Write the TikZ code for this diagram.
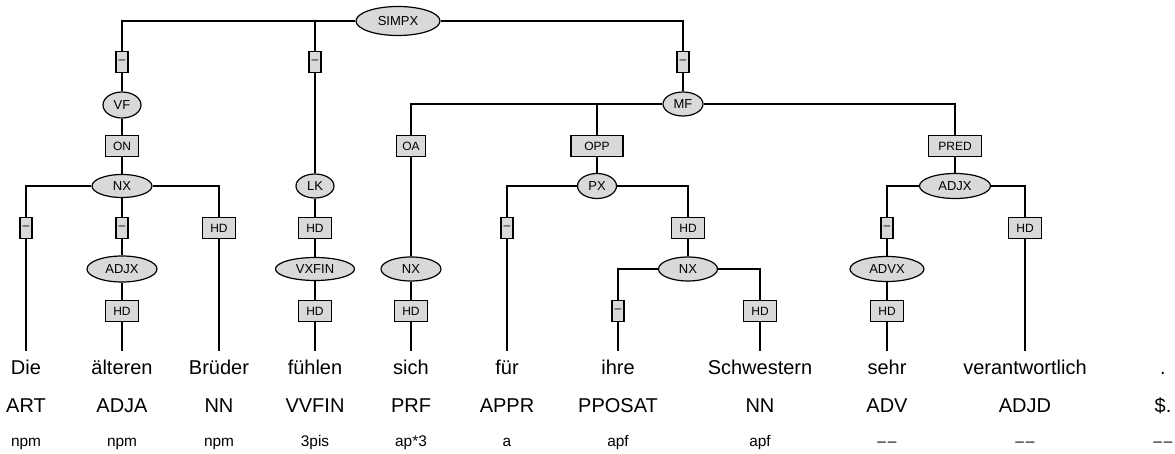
\documentclass[tikz,border=0pt]{standalone}
\usepackage{fontspec}
\setmainfont{Liberation Sans}
\usetikzlibrary{shapes.geometric}
\definecolor{node-gray}{HTML}{D9D9D9}
\newcommand{\nomorph}{\textendash\kern1pt\textendash}

\begin{document}
\begin{tikzpicture}[x=0.5pt, y=-0.5pt, line width=0.6pt,
      cat/.style={ellipse, draw, fill=node-gray, inner sep=0pt,
            minimum width=30pt, minimum height=12pt, font=\fontsize{6.5}{7}\selectfont},
      fn/.style={rectangle, draw, fill=node-gray, inner sep=0pt,
            minimum width=16.5pt, minimum height=10.5pt, font=\fontsize{6}{7}\selectfont},
      nofn/.style={fn, minimum width=6pt},
      word/.style={anchor=base, inner xsep=0pt, inner ysep=4.5pt, text height=7.3pt,
            font=\fontsize{10}{12}\selectfont},
      postag/.style={anchor=base, inner sep=0pt, font=\fontsize{10}{12}\selectfont},
      morph/.style={anchor=base, inner sep=0pt, font=\fontsize{7.7}{9}\selectfont}]
    \useasboundingbox (0,0) rectangle (1175,454);
    \foreach \x/\w/\t/\m [count=\i] in {26/Die/ART/npm, 122/älteren/ADJA/npm,
          219/Brüder/NN/npm, 315/fühlen/VVFIN/3pis, 411/sich/PRF/ap*3, 507/für/APPR/a,
          618/ihre/PPOSAT/apf, 760/Schwestern/NN/apf,
          887/sehr/ADV/\nomorph,
          1025/verantwortlich/ADJD/\nomorph,
          1163/./\$./\nomorph} {
      \node[word] (w\i) at (\x,375) {\w};
      \node[postag] (t\i) at (\x,413) {\t};
      \node[morph] (m\i) at (\x,447) {\m};
    }
    \node[cat, minimum width=42pt, minimum height=14.5pt] (simpx) at (398,21) {SIMPX};
    \node[nofn] (e-vf) at (122,62) {–};
    \node[nofn] (e-lk) at (315,62) {–};
    \node[nofn] (e-mf) at (683,62) {–};
    \node[cat, minimum width=19pt, minimum height=13pt] (vf) at (122,105) {VF};
    \node[cat, minimum width=19pt] (lk) at (315,186) {LK};
    \node[cat, minimum width=20pt] (mf) at (683,104) {MF};
    \node[fn] (e-on) at (122,146) {ON};
    \node[fn, minimum width=14.5pt] (e-oa) at (411,146) {OA};
    \node[fn, minimum width=26pt] (e-opp) at (597,146) {OPP};
    \node[fn, minimum width=26.5pt] (e-pred) at (955,146) {PRED};
    \node[cat, minimum height=11.5pt] (nx-on) at (122,186) {NX};
    \node[cat, minimum width=19.5pt, minimum height=12.5pt] (px) at (597,186) {PX};
    \node[cat, minimum width=35.5pt, minimum height=12.5pt] (adjx-pred) at (955,186) {ADJX};
    \node[nofn] (e-die) at (26,228) {–};
    \node[nofn] (e-aelt) at (122,228) {–};
    \node[fn] (e-brued) at (219,228) {HD};
    \node[fn] (e-lkhd) at (315,228) {HD};
    \node[nofn] (e-fuer) at (507,228) {–};
    \node[fn] (e-pxhd) at (688,228) {HD};
    \node[nofn] (e-advx) at (887,228) {–};
    \node[fn] (e-verant) at (1025,228) {HD};
    \node[cat, minimum width=35pt, minimum height=13pt] (adjx-aelt) at (122,269) {ADJX};
    \node[cat, minimum width=39.5pt, minimum height=11.5pt] (vxfin) at (315,269) {VXFIN};
    \node[cat] (nx-oa) at (411,269) {NX};
    \node[cat, minimum width=29.5pt] (nx-px) at (688,269) {NX};
    \node[cat, minimum width=37pt, minimum height=12.5pt] (advx) at (887,269) {ADVX};
    \node[fn] (e-aelthd) at (122,311) {HD};
    \node[fn] (e-vxhd) at (315,311) {HD};
    \node[fn] (e-sichhd) at (411,311) {HD};
    \node[nofn] (e-ihre) at (618,311) {–};
    \node[fn] (e-schw) at (760,311) {HD};
    \node[fn] (e-sehr) at (887,311) {HD};
    \draw (simpx.west) -| (e-vf.north);
    \draw (simpx.west) -| (e-lk.north);
    \draw (simpx.east) -| (e-mf.north);
    \draw (e-vf) -- (vf);
    \draw (vf) -- (e-on);
    \draw (e-on) -- (nx-on);
    \draw (nx-on.west) -| (e-die.north);
    \draw (nx-on) -- (e-aelt);
    \draw (nx-on.east) -| (e-brued.north);
    \draw (e-die) -- (w1);
    \draw (e-aelt) -- (adjx-aelt);
    \draw (adjx-aelt) -- (e-aelthd);
    \draw (e-aelthd) -- (w2);
    \draw (e-brued) -- (w3);
    \draw (e-lk) -- (lk);
    \draw (lk) -- (e-lkhd);
    \draw (e-lkhd) -- (vxfin);
    \draw (vxfin) -- (e-vxhd);
    \draw (e-vxhd) -- (w4);
    \draw (e-mf) -- (mf);
    \draw (mf.west) -| (e-oa.north);
    \draw (mf.west) -| (e-opp.north);
    \draw (mf.east) -| (e-pred.north);
    \draw (e-oa) -- (nx-oa);
    \draw (nx-oa) -- (e-sichhd);
    \draw (e-sichhd) -- (w5);
    \draw (e-opp) -- (px);
    \draw (px.west) -| (e-fuer.north);
    \draw (px.east) -| (e-pxhd.north);
    \draw (e-fuer) -- (w6);
    \draw (e-pxhd) -- (nx-px);
    \draw (nx-px.west) -| (e-ihre.north);
    \draw (nx-px.east) -| (e-schw.north);
    \draw (e-ihre) -- (w7);
    \draw (e-schw) -- (w8);
    \draw (e-pred) -- (adjx-pred);
    \draw (adjx-pred.west) -| (e-advx.north);
    \draw (adjx-pred.east) -| (e-verant.north);
    \draw (e-advx) -- (advx);
    \draw (advx) -- (e-sehr);
    \draw (e-sehr) -- (w9);
    \draw (e-verant) -- (w10);
  \end{tikzpicture}
\end{document}
